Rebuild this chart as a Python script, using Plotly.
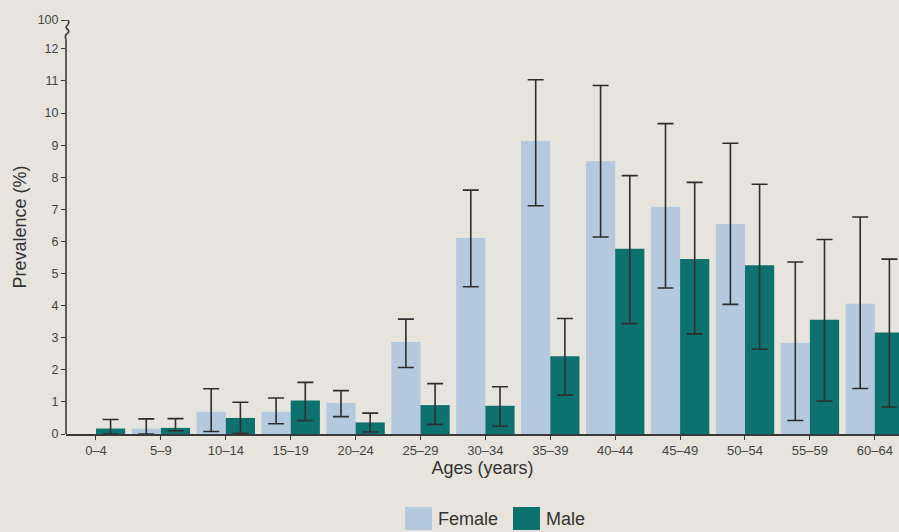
import plotly.graph_objects as go

ages = ["0–4", "5–9", "10–14", "15–19", "20–24", "25–29", "30–34",
        "35–39", "40–44", "45–49", "50–54", "55–59", "60–64"]

female = [None, 0.17, 0.69, 0.69, 0.97, 2.87, 6.11, 9.13, 8.50, 7.08, 6.54, 2.84, 4.06]
female_hi = [None, 0.47, 1.41, 1.12, 1.35, 3.58, 7.60, 11.04, 10.86, 9.67, 9.06, 5.36, 6.76]
female_lo = [None, 0.0, 0.08, 0.32, 0.54, 2.07, 4.59, 7.11, 6.14, 4.55, 4.04, 0.42, 1.42]

male = [0.17, 0.19, 0.50, 1.04, 0.36, 0.90, 0.88, 2.42, 5.77, 5.45, 5.26, 3.56, 3.16]
male_hi = [0.45, 0.48, 0.99, 1.61, 0.65, 1.57, 1.47, 3.60, 8.05, 7.84, 7.78, 6.06, 5.45]
male_lo = [0.0, 0.10, 0.02, 0.42, 0.06, 0.30, 0.24, 1.21, 3.44, 3.12, 2.64, 1.03, 0.84]

ytick_vals = list(range(13))
ytick_text = [str(v) for v in ytick_vals]
top_val = 12.9
top_text = "100"

FEMALE_C = "#b4c9dd"
MALE_C = "#0d716e"


def err(vals, hi, lo):
    up = [None if v is None else h - v for v, h in zip(vals, hi)]
    dn = [None if v is None else v - l for v, l in zip(vals, lo)]
    return up, dn


f_up, f_dn = err(female, female_hi, female_lo)
m_up, m_dn = err(male, male_hi, male_lo)

BG = "#e6e4dd"
AX = "#3a3a3a"
FONT = "Liberation Sans, Arial, sans-serif"

fig = go.Figure()
fig.add_bar(x=ages, y=female, name="Female", marker_color=FEMALE_C,
            marker_line_width=0, showlegend=False,
            error_y=dict(type="data", symmetric=False, array=f_up, arrayminus=f_dn,
                         color="#2e2e2e", thickness=1.6, width=8))
fig.add_bar(x=ages, y=male, name="Male", marker_color=MALE_C,
            marker_line_width=0, showlegend=False,
            error_y=dict(type="data", symmetric=False, array=m_up, arrayminus=m_dn,
                         color="#2e2e2e", thickness=1.6, width=8))

fig.update_layout(
    width=899, height=532,
    margin=dict(l=66, r=0, t=20, b=98),
    paper_bgcolor=BG, plot_bgcolor=BG,
    barmode="group", bargap=0.1, bargroupgap=0,
    font=dict(family=FONT, color="#333333"),
    showlegend=False,
)

fig.update_xaxes(
    range=[-0.462, 12.373], showgrid=False, zeroline=False,
    showline=True, linecolor=AX, linewidth=1.5,
    ticks="outside", ticklen=4, tickcolor=AX, tickwidth=1.2,
    tickfont=dict(size=13, color="#444444"),
    title=dict(text="Ages (years)", font=dict(size=18, color="#333333"), standoff=4),
)

fig.update_yaxes(
    range=[0, top_val], showgrid=False, zeroline=False, showline=False,
    tickmode="array", tickvals=ytick_vals + [top_val], ticktext=ytick_text + [top_text],
    ticks="outside", ticklen=4, tickcolor=AX, tickwidth=1.2,
    tickfont=dict(size=12.5, color="#444444"),
    title=dict(text="Prevalence (%)", font=dict(size=18, color="#333333"), standoff=6),
)

px = 1 / 833.0
py = 1 / 414.0
# broken y axis line
fig.add_shape(type="line", xref="paper", yref="y", x0=0, x1=0, y0=0, y1=12.3,
              line=dict(color=AX, width=1.6))
fig.add_shape(type="path", xref="paper", yref="y",
              path=f"M 0 12.3 Q {-2*px} 12.42 {2*px} 12.5 Q {4*px} 12.56 {1*px} 12.62",
              line=dict(color=AX, width=1.6))
fig.add_shape(type="path", xref="paper", yref="y",
              path=f"M {-1*px} {top_val} L {2*px} {top_val} Q {4*px} 12.82 {1*px} 12.72 Q {-1*px} 12.66 {2*px} 12.6",
              line=dict(color=AX, width=1.6))

# legend (large swatches as in the original)
legend_items = [("Female", FEMALE_C, 339), ("Male", MALE_C, 447)]
for label, color, x_px in legend_items:
    fig.add_shape(type="rect", xref="paper", yref="paper",
                  x0=x_px * px, x1=(x_px + 27) * px, y0=-73 * py, y1=-96 * py,
                  fillcolor=color, line=dict(width=0))
    fig.add_annotation(text=label, xref="paper", yref="paper",
                       x=(x_px + 31) * px, y=-84.5 * py, xanchor="left", yanchor="middle",
                       showarrow=False, font=dict(size=18, color="#333333"))

fig.write_html("out.html", config={"displayModeBar": False},
               post_script="document.body.style.margin='0';")
